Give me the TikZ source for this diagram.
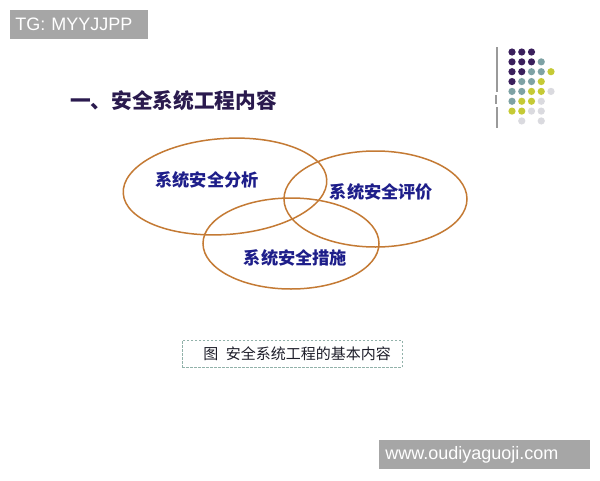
\documentclass[tikz,border=0pt]{standalone}
\usepackage{fontspec}
\setmainfont{Liberation Sans}
\newfontfamily\cjk{Noto Sans CJK SC}
\usepackage{xcolor}
\usetikzlibrary{shapes.geometric, positioning}

\definecolor{ringbrown}{HTML}{C47A34}
\definecolor{labelblue}{HTML}{1E1E8A}
\definecolor{titlepurple}{HTML}{2A1A4E}
\definecolor{tagfill}{HTML}{A6A6A6}
\definecolor{capline}{HTML}{92B2AA}
\definecolor{captext}{HTML}{1E1E2A}
\definecolor{barline}{HTML}{9A9A9A}
\definecolor{dotpurple}{HTML}{3A1F5C}
\definecolor{dotteal}{HTML}{7EA2A4}
\definecolor{dotyellow}{HTML}{C5CA35}
\definecolor{dotgray}{HTML}{DADADF}

\begin{document}
\begin{tikzpicture}[x=1pt,y=-1pt,semithick]
        \tikzstyle{ring}=[ellipse,draw=ringbrown,line width=1.5pt,inner sep=0pt]
        \tikzstyle{part}=[text=labelblue,font=\cjk\bfseries\fontsize{17.2}{17.2}\selectfont]
        \tikzstyle{tagbox}=[fill=tagfill,text=white,anchor=west,align=left,inner ysep=0pt,minimum height=29pt,font=\fontsize{18}{18}\selectfont]

        \useasboundingbox[fill=white] (0,0) rectangle (600,480);

        % corner tags
        \node[tagbox,text width=128pt,inner xsep=5pt] (tg)  at (10,24.5)  {TG: MYYJJPP};
        \node[tagbox,text width=199pt,inner xsep=6pt] (web) at (379,454.5) {www.oudiyaguoji.com};

        % title
        \node[text=titlepurple,font=\cjk\bfseries\fontsize{20.7}{20.7}\selectfont] (title) at (173.5,101) {一、安全系统工程内容};

        % dots and bar
        \draw[barline,line width=1.2pt] (497,47) -- (497,92) (496,95) -- (496,104) (497,107) -- (497,128);
        \foreach \c/\r/\col in {0/0/dotpurple,1/0/dotpurple,2/0/dotpurple,
                                0/1/dotpurple,1/1/dotpurple,2/1/dotpurple,3/1/dotteal,
                                0/2/dotpurple,1/2/dotpurple,2/2/dotteal,3/2/dotteal,4/2/dotyellow,
                                0/3/dotpurple,1/3/dotteal,2/3/dotteal,3/3/dotyellow,
                                0/4/dotteal,1/4/dotteal,2/4/dotyellow,3/4/dotyellow,4/4/dotgray,
                                0/5/dotteal,1/5/dotyellow,2/5/dotyellow,3/5/dotgray,
                                0/6/dotyellow,1/6/dotyellow,2/6/dotgray,3/6/dotgray,
                                1/7/dotgray,3/7/dotgray}
            \fill[\col] ({512+9.75*\c},{52+9.85*\r}) circle (3.6pt);

        % the three rings
        \node[ring,minimum width=204pt,minimum height=96pt,rotate=4] (analysis) at (225,186.5) {};
        \node[ring,minimum width=183pt,minimum height=96pt] (evaluation) at (375.5,199) {};
        \node[ring,minimum width=176pt,minimum height=91pt] (measures) at (291,243.5) {};

        \node[part] (analysistext)   at (207,180)   {系统安全分析};
        \node[part] (evaluationtext) at (381.5,192) {系统安全评价};
        \node[part] (measurestext)   at (295.5,258) {系统安全措施};

        % caption
        \node[draw=capline,line width=1pt,dash pattern=on 2.5pt off 1.5pt,minimum width=220pt,minimum height=27pt,inner sep=0pt] (capbox) at (292,353.5) {};
        \node[text=captext,font=\cjk\fontsize{15}{15}\selectfont] (caption) at (297,353.5) {图\hspace{0.5em}安全系统工程的基本内容};
\end{tikzpicture}
\end{document}
